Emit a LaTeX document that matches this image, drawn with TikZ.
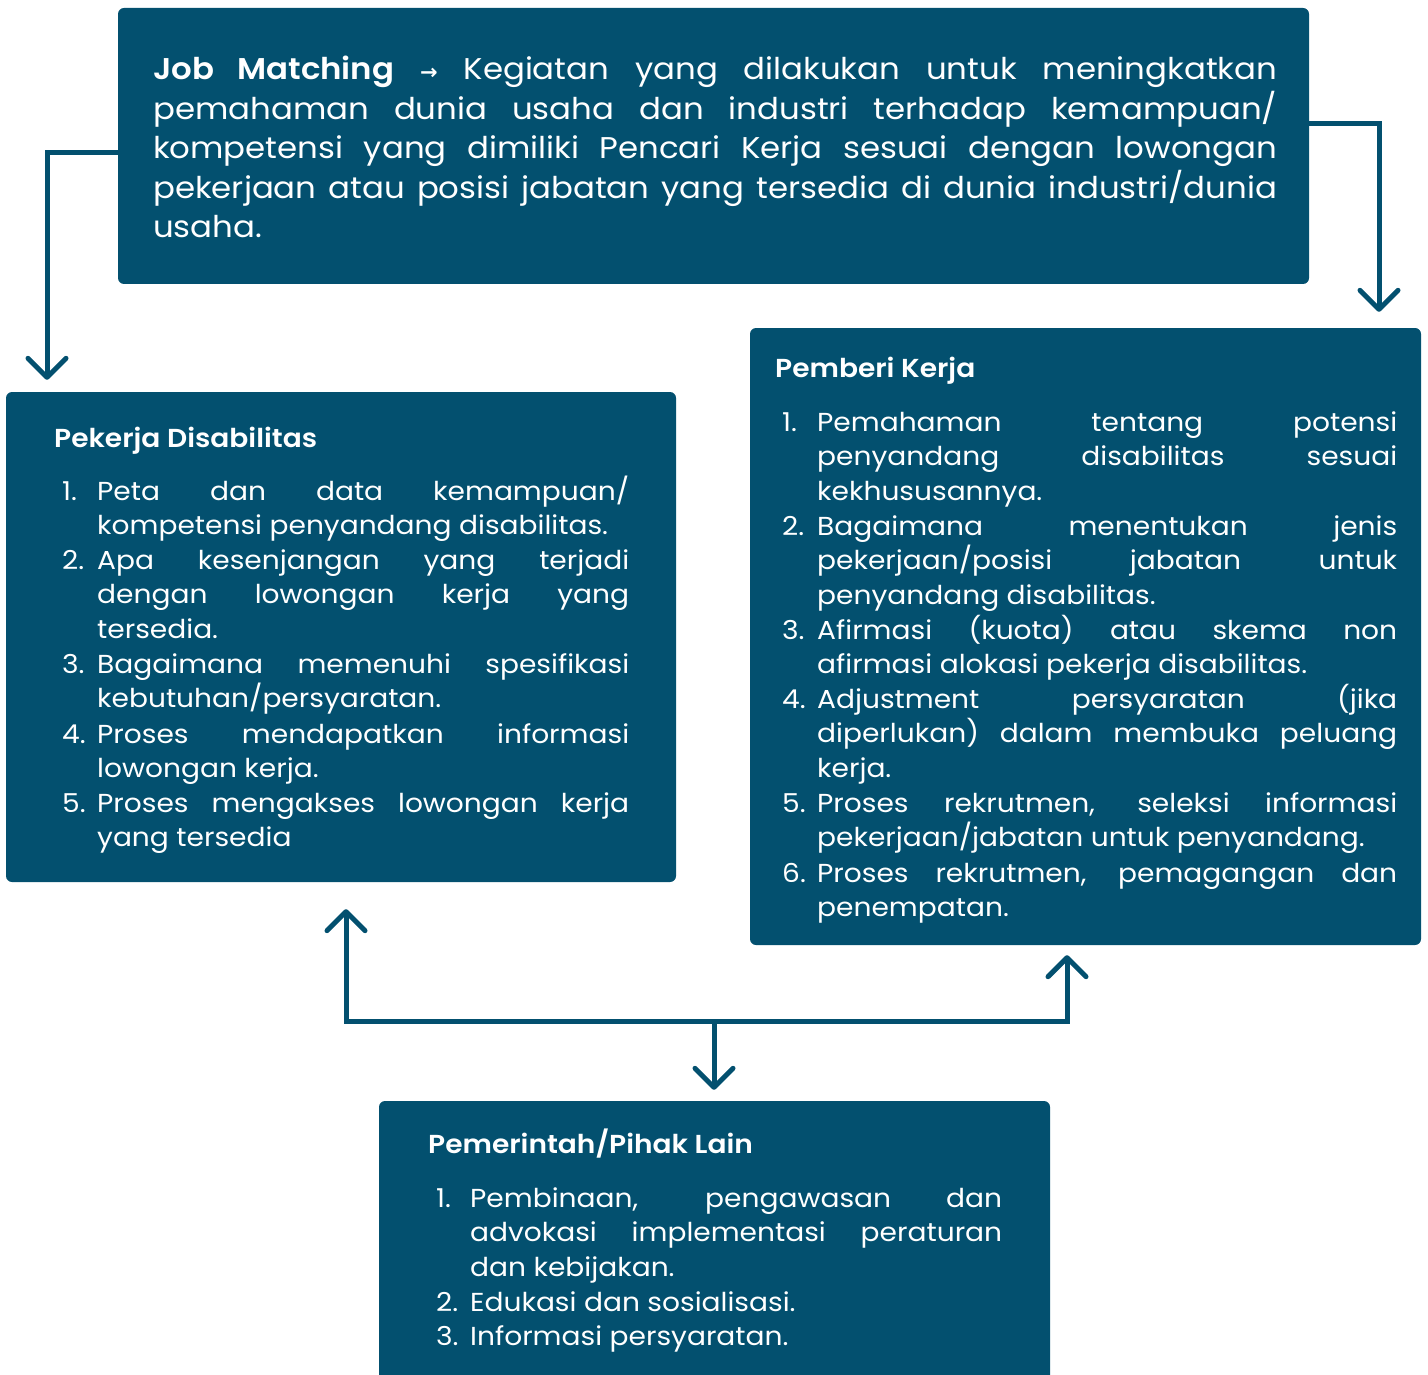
\documentclass[tikz,border=0pt]{standalone}
\usepackage{fontspec}
\setmainfont{Poppins}[BoldFont={Poppins SemiBold}, FakeStretch=1.08]
\newfontfamily\symf{DejaVu Sans}
\usetikzlibrary{arrows.meta}
\definecolor{boxc}{HTML}{03506F}
\newlength\tw
\newcommand\jl[1]{\makebox[\tw][s]{#1}\par}
\newcommand\nl[1]{\makebox[\tw][l]{#1}\par}
\newcommand\nm[1]{\makebox[35pt][l]{#1}}
\begin{document}
\begin{tikzpicture}[x=1pt,y=-1pt,
  box/.style={fill=boxc, rounded corners=6pt, inner sep=0pt, draw=none},
  txt/.style={text=white, inner sep=0pt, anchor=base west, font=\fontsize{26}{34.7}\selectfont},
  ttl/.style={txt, font=\fontsize{26}{34.7}\selectfont\bfseries},
  conn/.style={draw=boxc, line width=5pt, line join=miter},
  arr/.style={-{Straight Barb[length=19pt,width=38pt,round]}},
  darr/.style={{Straight Barb[length=19pt,width=38pt,round]}-{Straight Barb[length=19pt,width=38pt,round]}}]
\useasboundingbox (0,0) rectangle (1428,1375);

% boxes
\node[box, minimum width=1191pt, minimum height=276pt] (top) at (713.5,146) {};
\node[box, minimum width=670pt, minimum height=490pt] (pekerja) at (341,637) {};
\node[box, minimum width=671pt, minimum height=617pt] (pemberi) at (1085.5,636.5) {};
\node[box, minimum width=671pt, minimum height=294pt] (pemerintah) at (714.5,1248) {};

% top text
\node[txt, font=\fontsize{30}{39.5}\selectfont] (topText) at (153,80) {\setlength\tw{1124pt}\parbox[t]{\tw}{%
\jl{\textbf{Job Matching} {\symf\bfseries\fontsize{21}{21}\selectfont →} Kegiatan yang dilakukan untuk meningkatkan}%
\jl{pemahaman dunia usaha dan industri terhadap kemampuan/}%
\jl{kompetensi yang dimiliki Pencari Kerja sesuai dengan lowongan}%
\jl{pekerjaan atau posisi jabatan yang tersedia di dunia industri/dunia}%
\nl{usaha.}}};

% Pekerja Disabilitas
\node[ttl] (pkT) at (54,447) {Pekerja Disabilitas};
\node[txt] (pk1) at (62,500) {\setlength\tw{532pt}\nm{1.}\parbox[t]{\tw}{\jl{Peta dan data kemampuan/}\nl{kompetensi penyandang disabilitas.}}};
\node[txt] (pk2) at (62,569) {\setlength\tw{532pt}\nm{2.}\parbox[t]{\tw}{\jl{Apa kesenjangan yang terjadi}\jl{dengan lowongan kerja yang}\nl{tersedia.}}};
\node[txt] (pk3) at (62,673) {\setlength\tw{532pt}\nm{3.}\parbox[t]{\tw}{\jl{Bagaimana memenuhi spesifikasi}\nl{kebutuhan/persyaratan.}}};
\node[txt] (pk4) at (62,743) {\setlength\tw{532pt}\nm{4.}\parbox[t]{\tw}{\jl{Proses mendapatkan informasi}\nl{lowongan kerja.}}};
\node[txt] (pk5) at (62,812) {\setlength\tw{532pt}\nm{5.}\parbox[t]{\tw}{\jl{Proses mengakses lowongan kerja}\nl{yang tersedia}}};

% Pemberi Kerja
\node[ttl] (pbT) at (775,377) {Pemberi Kerja};
\node[txt] (pb1) at (782,431) {\setlength\tw{580pt}\nm{1.}\parbox[t]{\tw}{\jl{Pemahaman tentang potensi}\jl{penyandang disabilitas sesuai}\nl{kekhususannya.}}};
\node[txt] (pb2) at (782,535) {\setlength\tw{580pt}\nm{2.}\parbox[t]{\tw}{\jl{Bagaimana menentukan jenis}\jl{pekerjaan/posisi jabatan untuk}\nl{penyandang disabilitas.}}};
\node[txt] (pb3) at (782,639) {\setlength\tw{580pt}\nm{3.}\parbox[t]{\tw}{\jl{Afirmasi (kuota) atau skema non}\nl{afirmasi alokasi pekerja disabilitas.}}};
\node[txt] (pb4) at (782,708) {\setlength\tw{580pt}\nm{4.}\parbox[t]{\tw}{\jl{Adjustment persyaratan (jika}\jl{diperlukan) dalam membuka peluang}\nl{kerja.}}};
\node[txt] (pb5) at (782,812) {\setlength\tw{580pt}\nm{5.}\parbox[t]{\tw}{\jl{Proses rekrutmen, seleksi informasi}\nl{pekerjaan/jabatan untuk penyandang.}}};
\node[txt] (pb6) at (782,882) {\setlength\tw{580pt}\nm{6.}\parbox[t]{\tw}{\jl{Proses rekrutmen, pemagangan dan}\nl{penempatan.}}};

% Pemerintah/Pihak Lain
\node[ttl] (pmT) at (428,1153) {Pemerintah/Pihak Lain};
\node[txt] (pm1) at (436,1207) {\setlength\tw{532pt}\makebox[34pt][l]{1.}\parbox[t]{\tw}{\jl{Pembinaan, pengawasan dan}\jl{advokasi implementasi peraturan}\nl{dan kebijakan.}}};
\node[txt] (pm2) at (436,1311) {\setlength\tw{532pt}\makebox[34pt][l]{2.}\parbox[t]{\tw}{\nl{Edukasi dan sosialisasi.}}};
\node[txt] (pm3) at (436,1345) {\setlength\tw{532pt}\makebox[34pt][l]{3.}\parbox[t]{\tw}{\nl{Informasi persyaratan.}}};

% connectors
\draw[conn, arr] (top.west |- 0,153) -| ([yshift=12pt]pekerja.north -| 47,0);
\draw[conn, arr] (top.east |- 0,124) -| ([yshift=16pt]pemberi.north -| 1379,0);
\coordinate (hub) at (714,1021);
\draw[conn, darr] ([yshift=-27pt]pekerja.south -| 346,0) |- (hub) -| ([yshift=-10pt]pemberi.south -| 1067,0);
\draw[conn, arr] (hub) -- ([yshift=11pt]pemerintah.north -| hub);
\end{tikzpicture}
\end{document}
